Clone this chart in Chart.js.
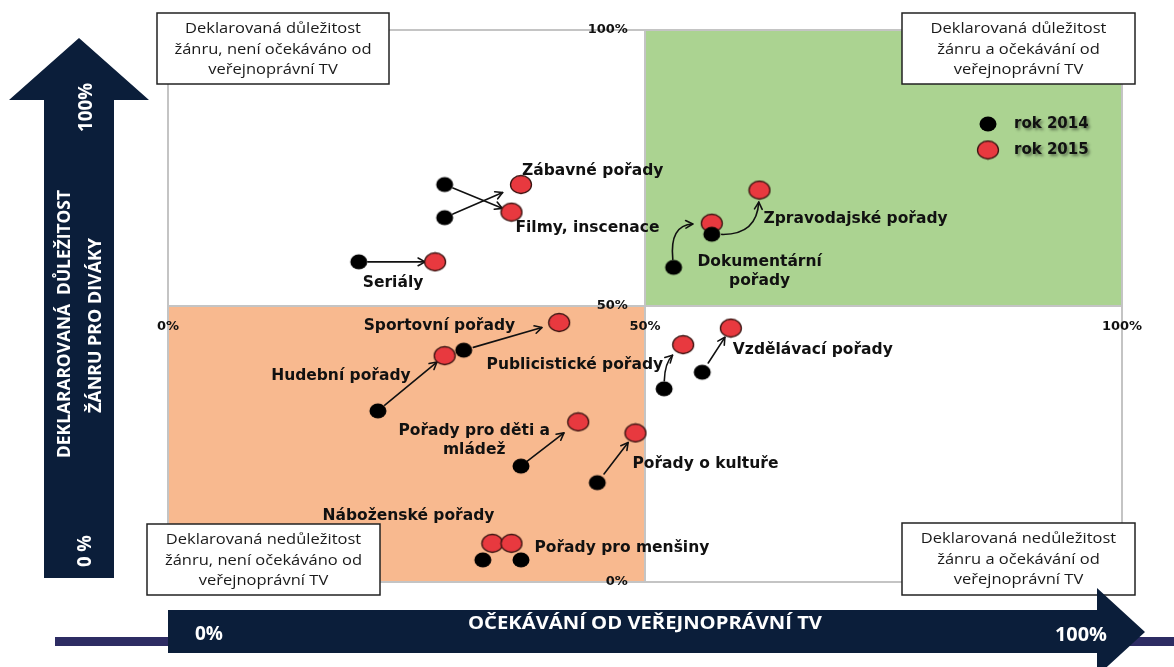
<!DOCTYPE html>
<html lang="cs">
<head>
<meta charset="utf-8">
<title>Deklarovaná důležitost žánrů a očekávání od veřejnoprávní TV</title>
<script src="https://cdn.jsdelivr.net/npm/chart.js@4.4.1/dist/chart.umd.min.js"></script>
<style>
  html, body { margin: 0; padding: 0; background: #fff; }
  #wrap { width: 1174px; height: 667px; }
</style>
</head>
<body>
<div id="wrap"><canvas id="chart" width="1174" height="667"></canvas></div>
<script>
// ---- data -------------------------------------------------------------
const categories = [
  'Seriály', 'Zábavné pořady', 'Filmy, inscenace', 'Zpravodajské pořady',
  'Dokumentární\npořady', 'Sportovní pořady', 'Hudební pořady',
  'Publicistické pořady', 'Vzdělávací pořady', 'Pořady pro děti a\nmládež',
  'Pořady o kultuře', 'Náboženské pořady', 'Pořady pro menšiny'
];
// x = očekávání od veřejnoprávní TV (%), y = deklarovaná důležitost (%)
const expect2014     = [20, 29, 29, 57, 53, 31, 22, 52, 56, 37, 45, 33, 37];
const importance2014 = [58, 66, 72, 63, 57, 42, 31, 35, 38, 21, 18,  4,  4];
const expect2015     = [28, 37, 36, 62, 57, 41, 29, 54, 59, 43, 49, 34, 36];
const importance2015 = [58, 72, 67, 71, 65, 47, 41, 43, 46, 29, 27,  7,  7];
const seriesLabels = ['rok 2014', 'rok 2015'];
const axisTicks = [0, 50, 100];
const quadrantNotes = [
  ['Deklarovaná důležitost', 'žánru, není očekáváno od', 'veřejnoprávní TV'],
  ['Deklarovaná důležitost', 'žánru a očekávání od', 'veřejnoprávní TV'],
  ['Deklarovaná nedůležitost', 'žánru, není očekáváno od', 'veřejnoprávní TV'],
  ['Deklarovaná nedůležitost', 'žánru a očekávání od', 'veřejnoprávní TV']
];
const xAxisTitle = 'OČEKÁVÁNÍ OD VEŘEJNOPRÁVNÍ TV';
const yAxisTitle = ['DEKLARAROVANÁ  DŮLEŽITOST', 'ŽÁNRU PRO DIVÁKY'];
const axisEnds = ['0%', '100%'];
const yAxisEnds = ['0 %', '100%'];

// ---- styling / layout -----------------------------------------------------
const NAVY = '#0b1e3a';
const GREEN = '#abd391';
const ORANGE = '#f8b98f';
const GRID = '#c4c4c4';
const LABEL_FONT = 'bold 15.5px "DejaVu Sans"';
// the vertical axis' percent labels stand slightly left of the midline
const Y_LABEL_COLUMN = 48.2;

// where each genre caption sits relative to one of its points (0 = 2014, 1 = 2015)
const labelPlacement = [
  { year: 0, dx: 4,    dy: 21,  align: 'left' },
  { year: 1, dx: 1,    dy: -14, align: 'left' },
  { year: 1, dx: 4,    dy: 16,  align: 'left' },
  { year: 1, dx: 4,    dy: 29,  align: 'left' },
  { year: 0, dx: 86,   dy: -5,  align: 'center' },
  { year: 1, dx: -44,  dy: 3,   align: 'right' },
  { year: 1, dx: -34,  dy: 20,  align: 'right' },
  { year: 1, dx: -20,  dy: 20,  align: 'right' },
  { year: 1, dx: 2,    dy: 22,  align: 'left' },
  { year: 1, dx: -104, dy: 9,   align: 'center' },
  { year: 1, dx: -3,   dy: 31,  align: 'left' },
  { year: 1, dx: 2,    dy: -27, align: 'right' },
  { year: 1, dx: 23,   dy: 5,   align: 'left' }
];
const LINE_GAP = 19;

// arrow from the 2014 point to the 2015 point: gaps at both ends, curvature
const arrowStyle = [
  { from: 9,  to: 10, bend: 0 },
  { from: 9,  to: 20, bend: 0 },
  { from: 9,  to: 10, bend: 0 },
  { from: 10, to: 12, bend: 0.48 },
  { from: 8,  to: 19, bend: -0.53 },
  { from: 10, to: 18, bend: 0 },
  { from: 9,  to: 10, bend: 0 },
  { from: 8,  to: 15, bend: -0.2 },
  { from: 11, to: 11, bend: 0 },
  { from: 8,  to: 18, bend: 0 },
  { from: 11, to: 12, bend: 0 },
  null,
  null
];

function dotImage(rx, ry, fill, stroke) {
  const c = document.createElement('canvas');
  c.width = Math.ceil(rx * 2 + 3);
  c.height = Math.ceil(ry * 2 + 3);
  const g = c.getContext('2d');
  g.beginPath();
  g.ellipse(c.width / 2, c.height / 2, rx, ry, 0, 0, Math.PI * 2);
  g.fillStyle = fill;
  g.fill();
  if (stroke) { g.lineWidth = 1.3; g.strokeStyle = stroke; g.stroke(); }
  return c;
}
const blackDot = dotImage(8.5, 7.5, '#000000', null);
const redDot = dotImage(10.5, 9, '#e8393f', '#3b1512');

function fitText(ctx, text, cx, cy, width) {
  const w = ctx.measureText(text).width;
  ctx.save();
  ctx.translate(cx, cy);
  ctx.scale(width / w, 1);
  ctx.textAlign = 'center';
  ctx.fillText(text, 0, 0);
  ctx.restore();
}

function stretchText(ctx, text, cx, cy, sx) {
  ctx.save();
  ctx.translate(cx, cy);
  ctx.scale(sx, 1);
  ctx.textAlign = 'center';
  ctx.fillText(text, 0, 0);
  ctx.restore();
}

function drawArrow(ctx, p0, p1, st) {
  const dx = p1.x - p0.x, dy = p1.y - p0.y;
  const c = { x: (p0.x + p1.x) / 2 - st.bend * dy, y: (p0.y + p1.y) / 2 + st.bend * dx };
  let d0x = c.x - p0.x, d0y = c.y - p0.y, l0 = Math.hypot(d0x, d0y) || 1;
  let d1x = p1.x - c.x, d1y = p1.y - c.y, l1 = Math.hypot(d1x, d1y) || 1;
  d0x /= l0; d0y /= l0; d1x /= l1; d1y /= l1;
  const s = { x: p0.x + d0x * st.from, y: p0.y + d0y * st.from };
  const e = { x: p1.x - d1x * st.to, y: p1.y - d1y * st.to };
  ctx.beginPath();
  ctx.moveTo(s.x, s.y);
  if (st.bend) ctx.quadraticCurveTo(c.x, c.y, e.x, e.y);
  else ctx.lineTo(e.x, e.y);
  ctx.stroke();
  const ang = Math.atan2(d1y, d1x), arm = 8, spread = 0.5;
  ctx.beginPath();
  ctx.moveTo(e.x - arm * Math.cos(ang - spread), e.y - arm * Math.sin(ang - spread));
  ctx.lineTo(e.x, e.y);
  ctx.lineTo(e.x - arm * Math.cos(ang + spread), e.y - arm * Math.sin(ang + spread));
  ctx.stroke();
}

// quadrant backgrounds and frame
const quadrantPlugin = {
  id: 'quadrants',
  beforeDraw(chart) {
    const { ctx, chartArea: a, scales: { x, y } } = chart;
    const xm = x.getPixelForValue(50), ym = y.getPixelForValue(50);
    ctx.save();
    ctx.fillStyle = '#fff';
    ctx.fillRect(0, 0, chart.width, chart.height);
    ctx.fillStyle = GREEN;
    ctx.fillRect(xm, a.top, a.right - xm, ym - a.top);
    ctx.fillStyle = ORANGE;
    ctx.fillRect(a.left, ym, xm - a.left, a.bottom - ym);
    ctx.strokeStyle = GRID;
    ctx.lineWidth = 2;
    ctx.strokeRect(a.left, a.top, a.right - a.left, a.bottom - a.top);
    ctx.beginPath();
    ctx.moveTo(xm, a.top); ctx.lineTo(xm, a.bottom);
    ctx.moveTo(a.left, ym); ctx.lineTo(a.right, ym);
    ctx.stroke();
    ctx.restore();
  }
};

// 2014 -> 2015 arrows under the points, captions over them
const movementPlugin = {
  id: 'movement',
  beforeDatasetsDraw(chart) {
    const { ctx } = chart;
    const m0 = chart.getDatasetMeta(0).data, m1 = chart.getDatasetMeta(1).data;
    ctx.save();
    ctx.strokeStyle = '#111';
    ctx.lineWidth = 1.6;
    ctx.lineCap = 'round';
    ctx.lineJoin = 'round';
    categories.forEach((_, i) => {
      if (arrowStyle[i]) drawArrow(ctx, m0[i], m1[i], arrowStyle[i]);
    });
    ctx.restore();
  },
  afterDatasetsDraw(chart) {
    const { ctx } = chart;
    const metas = [chart.getDatasetMeta(0).data, chart.getDatasetMeta(1).data];
    ctx.save();
    ctx.font = LABEL_FONT;
    ctx.fillStyle = '#111';
    ctx.textBaseline = 'middle';
    categories.forEach((name, i) => {
      const lp = labelPlacement[i];
      const pt = metas[lp.year][i];
      ctx.textAlign = lp.align;
      name.split('\n').forEach((line, k) => {
        ctx.fillText(line, pt.x + lp.dx, pt.y + lp.dy + k * LINE_GAP);
      });
    });
    ctx.restore();
  }
};

// legend, quadrant notes and the two axis arrows
const framePlugin = {
  id: 'frame',
  afterDraw(chart) {
    const { ctx } = chart;
    ctx.save();

    // legend
    const legendDots = [blackDot, redDot];
    ctx.font = 'bold 15px "DejaVu Sans"';
    ctx.textBaseline = 'middle';
    ctx.textAlign = 'left';
    seriesLabels.forEach((lbl, k) => {
      const cy = 124 + k * 26;
      const img = legendDots[k];
      ctx.drawImage(img, 988 - img.width / 2, cy - img.height / 2);
      ctx.save();
      ctx.shadowColor = 'rgba(0,0,0,0.45)';
      ctx.shadowOffsetX = 2;
      ctx.shadowOffsetY = 2;
      ctx.shadowBlur = 3;
      ctx.fillStyle = '#111';
      ctx.fillText(lbl, 1014, cy);
      ctx.restore();
    });

    // quadrant notes
    const boxes = [
      { x: 157, y: 13, w: 232, h: 71 },
      { x: 902, y: 13, w: 233, h: 71 },
      { x: 147, y: 524, w: 233, h: 71 },
      { x: 902, y: 523, w: 233, h: 72 }
    ];
    boxes.forEach((b, k) => {
      ctx.fillStyle = '#fff';
      ctx.fillRect(b.x, b.y, b.w, b.h);
      ctx.strokeStyle = '#222';
      ctx.lineWidth = 1.5;
      ctx.strokeRect(b.x, b.y, b.w, b.h);
      ctx.fillStyle = '#1a1a1a';
      ctx.font = '15px "Open Sans"';
      ctx.textBaseline = 'middle';
      quadrantNotes[k].forEach((line, j) => {
        stretchText(ctx, line, b.x + b.w / 2, b.y + 16 + j * 20.5, 1.1);
      });
    });

    // horizontal axis arrow
    ctx.fillStyle = '#2d2c63';
    ctx.fillRect(55, 637, chart.width - 55, 9);
    ctx.fillStyle = NAVY;
    ctx.beginPath();
    ctx.moveTo(168, 610); ctx.lineTo(1097, 610); ctx.lineTo(1097, 588);
    ctx.lineTo(1145, 632); ctx.lineTo(1097, 676); ctx.lineTo(1097, 653);
    ctx.lineTo(168, 653); ctx.closePath();
    ctx.fill();

    // vertical axis arrow
    ctx.beginPath();
    ctx.moveTo(44, 578); ctx.lineTo(44, 100); ctx.lineTo(9, 100);
    ctx.lineTo(79, 38); ctx.lineTo(149, 100); ctx.lineTo(114, 100);
    ctx.lineTo(114, 578); ctx.closePath();
    ctx.fill();

    ctx.fillStyle = '#fff';
    ctx.textBaseline = 'middle';
    ctx.font = 'bold 18px "Open Sans"';
    fitText(ctx, xAxisTitle, 645, 624, 354);
    ctx.font = 'bold 19px "Open Sans"';
    fitText(ctx, axisEnds[0], 209, 635, 28);
    fitText(ctx, axisEnds[1], 1081, 636, 52);

    const vert = (text, cx, cy, width, font) => {
      ctx.save();
      ctx.translate(cx, cy);
      ctx.rotate(-Math.PI / 2);
      ctx.font = font;
      fitText(ctx, text, 0, 0, width);
      ctx.restore();
    };
    vert(yAxisTitle[0], 65, 324, 268, 'bold 17px "Open Sans"');
    vert(yAxisTitle[1], 96, 325.5, 175, 'bold 17px "Open Sans"');
    vert(yAxisEnds[1], 87, 107.5, 49, 'bold 19px "Open Sans"');
    vert(yAxisEnds[0], 86, 551, 32, 'bold 19px "Open Sans"');

    ctx.restore();
  }
};

const tickFont = { family: 'DejaVu Sans', weight: 'bold', size: 13 };
const fixedTicks = axis => { axis.ticks = axisTicks.map(v => ({ value: v })); };

new Chart(document.getElementById('chart'), {
  type: 'scatter',
  data: {
    datasets: [
      {
        label: seriesLabels[0],
        data: expect2014.map((v, i) => ({ x: v, y: importance2014[i] })),
        pointStyle: blackDot,
        pointRadius: 9
      },
      {
        label: seriesLabels[1],
        data: expect2015.map((v, i) => ({ x: v, y: importance2015[i] })),
        pointStyle: redDot,
        pointRadius: 10
      }
    ]
  },
  options: {
    responsive: false,
    animation: false,
    devicePixelRatio: 1,
    events: [],
    layout: { padding: { left: 168, top: 30, right: 52, bottom: 85 } },
    plugins: { legend: { display: false }, tooltip: { enabled: false } },
    scales: {
      x: {
        type: 'linear', min: 0, max: 100, position: { y: 50 },
        afterBuildTicks: fixedTicks,
        ticks: { callback: v => v + '%', font: tickFont, color: '#111', padding: 13, maxRotation: 0, autoSkip: false },
        grid: { display: false, drawTicks: false },
        border: { display: false }
      },
      y: {
        type: 'linear', min: 0, max: 100, position: { x: Y_LABEL_COLUMN },
        afterBuildTicks: fixedTicks,
        ticks: { callback: v => v + '%', font: tickFont, color: '#111', autoSkip: false },
        grid: { display: false, drawTicks: false },
        border: { display: false }
      }
    }
  },
  plugins: [quadrantPlugin, movementPlugin, framePlugin]
});
</script>
</body>
</html>
